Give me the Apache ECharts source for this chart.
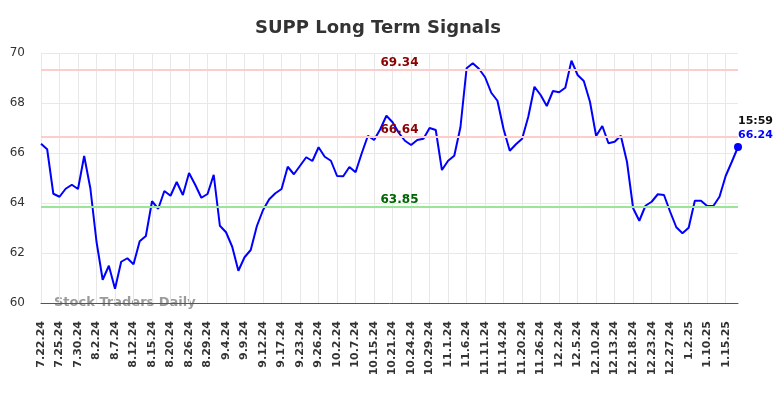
<!DOCTYPE html>
<html>
<head>
<meta charset="utf-8">
<title>SUPP Long Term Signals</title>
<script src="https://cdn.jsdelivr.net/npm/echarts@6/dist/echarts.min.js"></script>
<style>
  html, body { margin: 0; padding: 0; background: #fff; }
  #chart { width: 784px; height: 398px; }
</style>
</head>
<body>
<div id="chart"></div>
<script>
const dates = [
  '7.22.24', '7.23.24', '7.24.24', '7.25.24', '7.26.24', '7.29.24',
  '7.30.24', '7.31.24', '8.1.24', '8.2.24', '8.5.24', '8.6.24',
  '8.7.24', '8.8.24', '8.9.24', '8.12.24', '8.13.24', '8.14.24',
  '8.15.24', '8.16.24', '8.19.24', '8.20.24', '8.21.24', '8.23.24',
  '8.26.24', '8.27.24', '8.28.24', '8.29.24', '8.30.24', '9.3.24',
  '9.4.24', '9.5.24', '9.6.24', '9.9.24', '9.10.24', '9.11.24',
  '9.12.24', '9.13.24', '9.16.24', '9.17.24', '9.18.24', '9.20.24',
  '9.23.24', '9.24.24', '9.25.24', '9.26.24', '9.27.24', '10.1.24',
  '10.2.24', '10.3.24', '10.4.24', '10.7.24', '10.9.24', '10.11.24',
  '10.15.24', '10.16.24', '10.18.24', '10.21.24', '10.22.24', '10.23.24',
  '10.24.24', '10.25.24', '10.28.24', '10.29.24', '10.30.24', '10.31.24',
  '11.1.24', '11.4.24', '11.5.24', '11.6.24', '11.7.24', '11.8.24',
  '11.11.24', '11.12.24', '11.13.24', '11.14.24', '11.15.24', '11.19.24',
  '11.20.24', '11.21.24', '11.25.24', '11.26.24', '11.27.24', '11.29.24',
  '12.2.24', '12.3.24', '12.4.24', '12.5.24', '12.6.24', '12.9.24',
  '12.10.24', '12.11.24', '12.12.24', '12.13.24', '12.16.24', '12.17.24',
  '12.18.24', '12.19.24', '12.20.24', '12.23.24', '12.24.24', '12.26.24',
  '12.27.24', '12.30.24', '12.31.24', '1.2.25', '1.6.25', '1.8.25',
  '1.10.25', '1.13.25', '1.14.25', '1.15.25', '1.16.25', '1.17.25'
];

const prices = [
  66.37, 66.15, 64.37, 64.25, 64.57, 64.73, 64.56, 65.88, 64.59, 62.45,
  60.93, 61.49, 60.57, 61.65, 61.79, 61.55, 62.47, 62.68, 64.07, 63.77,
  64.48, 64.29, 64.84, 64.32, 65.2, 64.73, 64.21, 64.36, 65.13, 63.09,
  62.83, 62.25, 61.29, 61.83, 62.12, 63.08, 63.72, 64.15, 64.39, 64.56,
  65.45, 65.15, 65.49, 65.83, 65.68, 66.23, 65.85, 65.69, 65.08, 65.07,
  65.44, 65.23, 65.99, 66.69, 66.52, 66.95, 67.49, 67.23, 66.81, 66.49,
  66.32, 66.52, 66.57, 67.0, 66.92, 65.32, 65.69, 65.89, 67.03, 69.39,
  69.59, 69.37, 69.03, 68.41, 68.09, 66.95, 66.09, 66.35, 66.57, 67.45,
  68.65, 68.32, 67.88, 68.48, 68.43, 68.61, 69.69, 69.12, 68.88, 68.05,
  66.68, 67.08, 66.39, 66.45, 66.69, 65.65, 63.79, 63.29, 63.89, 64.05,
  64.35, 64.32, 63.65, 63.03, 62.79, 63.01, 64.09, 64.09, 63.88, 63.88,
  64.25, 65.08, 65.65, 66.24
];

// signal levels
const upperResistance = 69.34;
const midResistance = 66.64;
const support = 63.85;

const lastTime = '15:59';
const yTicks = { min: 60, max: 70, interval: 2 };

const chart = echarts.init(document.getElementById('chart'));
const lastIdx = prices.length - 1;
const fontFamily = '"DejaVu Sans", sans-serif';

chart.setOption({
  animation: false,
  textStyle: { fontFamily: fontFamily },
  title: {
    text: 'SUPP Long Term Signals',
    left: 250,
    top: 14,
    textStyle: { fontFamily: fontFamily, fontSize: 18, fontWeight: 'bold', color: '#333' },
  },
  graphic: [
    {
      type: 'text',
      left: 54,
      top: 296,
      silent: true,
      style: {
        text: 'Stock Traders Daily',
        fontFamily: fontFamily,
        fontSize: 13,
        fontWeight: 'bold',
        fill: 'rgba(130,130,130,0.8)',
      },
    },
  ],
  grid: {
    left: 41,
    right: 46,
    top: 53,
    bottom: 95,
  },
  xAxis: {
    type: 'category',
    boundaryGap: false,
    data: dates,
    axisLine: { lineStyle: { color: '#555', width: 1 } },
    axisTick: { show: false },
    axisLabel: {
      interval: 2,
      rotate: 90,
      margin: 18,
      fontFamily: fontFamily,
      fontSize: 11,
      fontWeight: 'bold',
      color: '#333',
    },
    splitLine: { show: true, interval: 2, lineStyle: { color: '#e8e8e8', width: 1 } },
  },
  yAxis: {
    type: 'value',
    min: yTicks.min,
    max: yTicks.max,
    interval: yTicks.interval,
    axisLine: { show: false },
    axisTick: { show: false },
    axisLabel: { margin: 16, fontFamily: fontFamily, fontSize: 12, color: '#333' },
    splitLine: { lineStyle: { color: '#e8e8e8', width: 1 } },
  },
  series: [
    {
      name: 'SUPP',
      type: 'line',
      data: prices,
      showSymbol: false,
      lineStyle: { color: '#0000ff', width: 2 },
      itemStyle: { color: '#0000ff' },
      markLine: {
        silent: true,
        symbol: 'none',
        data: [
          { yAxis: upperResistance, lineStyle: { color: '#ffcccc' }, label: { color: '#8b0000' } },
          { yAxis: midResistance, lineStyle: { color: '#ffcccc' }, label: { color: '#8b0000' } },
          { yAxis: support, lineStyle: { color: '#99e699' }, label: { color: '#006400' } },
        ],
        lineStyle: { type: 'solid', width: 2 },
        label: {
          position: 'insideMiddleTop',
          distance: 1,
          offset: [10, 0],
          fontFamily: fontFamily,
          fontSize: 12,
          fontWeight: 'bold',
          formatter: (p) => p.value.toFixed(2),
        },
      },
      markPoint: {
        silent: true,
        data: [
          {
            coord: [lastIdx, prices[lastIdx]],
            symbol: 'circle',
            symbolSize: 8,
            itemStyle: { color: '#0000ff' },
            label: {
              show: true,
              position: [4, -29],
              align: 'left',
              verticalAlign: 'top',
              formatter: lastTime + '\n{v|' + prices[lastIdx].toFixed(2) + '}',
              fontFamily: fontFamily,
              fontSize: 11,
              fontWeight: 'bold',
              color: '#111',
              lineHeight: 14,
              rich: {
                v: { color: '#0000ff', fontFamily: fontFamily, fontSize: 11, fontWeight: 'bold', lineHeight: 14 },
              },
            },
          },
        ],
      },
    },
  ],
});
</script>
</body>
</html>
